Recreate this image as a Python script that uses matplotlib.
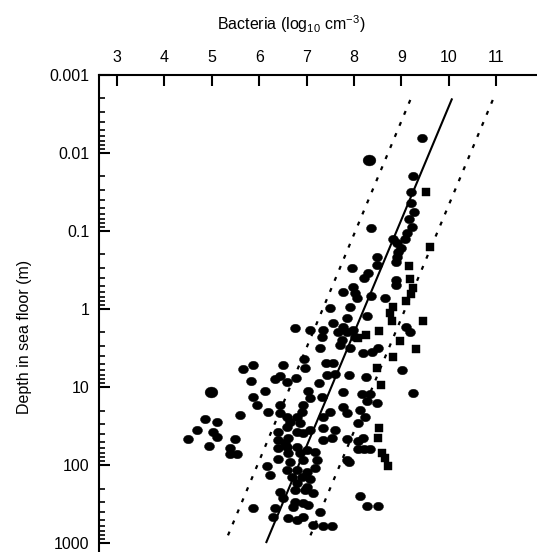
import numpy as np
import matplotlib
matplotlib.use("Agg")
import matplotlib.pyplot as plt
from matplotlib.path import Path
from matplotlib.transforms import Affine2D
from matplotlib.ticker import LogLocator, FixedLocator, NullFormatter

plt.rcParams['font.family'] = ['Liberation Sans', 'DejaVu Sans']
plt.rcParams['mathtext.fontset'] = 'custom'
plt.rcParams['mathtext.rm'] = 'Liberation Sans'
plt.rcParams['mathtext.it'] = 'Liberation Sans:italic'

# ---- data: bacteria (log10 cells cm^-3) vs depth in sea floor (m) ----
circ_bact = [9.43, 9.24, 9.20, 9.20, 9.27, 9.16, 9.22, 9.12, 9.08, 8.36,
             8.82, 8.91, 8.99, 8.93, 8.91, 8.89, 8.49, 8.49, 7.96, 8.30,
             8.21, 8.89, 8.89, 7.77, 7.98, 8.02, 8.06, 8.36, 8.65,
             7.49, 7.92, 7.85, 8.27, 7.56, 7.77, 7.07, 7.35, 7.66, 7.85,
             6.76, 7.98, 8.02, 7.32, 7.75, 7.70, 7.92, 7.28, 8.19, 8.38,
             8.51, 9.10, 9.18, 6.95, 6.97, 7.41, 7.56, 9.01, 5.87, 5.66, 6.50,
             5.83, 6.44, 6.33, 6.59, 6.78, 6.12, 5.87, 7.03, 7.07, 7.26,
             7.32, 7.43, 7.60, 7.89, 8.25, 7.77, 8.17, 8.34, 8.27, 9.24,
             5.95, 6.44, 6.92, 7.77, 6.19, 6.44, 6.90, 7.49, 5.59, 6.59,
             6.80, 7.35, 4.86, 5.11, 6.65, 6.86, 6.59, 7.07, 7.35, 7.60,
             4.69, 5.03, 6.40, 6.80, 6.92, 4.50, 5.11, 5.49, 6.40, 6.61,
             7.35, 7.54, 4.94, 5.38, 6.40, 6.59, 6.80, 7.01, 5.38, 5.53,
             6.61, 6.86, 7.18, 6.40, 6.65, 6.92, 7.22, 7.85, 6.16, 6.59,
             6.80, 7.01, 7.18, 6.23, 6.69, 6.90, 7.07, 6.80, 7.01, 6.44,
             6.76, 6.97, 7.14, 6.50, 6.76, 6.92, 5.87, 6.33, 6.71, 7.03,
             7.28, 6.29, 6.61, 6.80, 6.92, 7.14, 7.35, 7.54, 6.54,
             8.49, 8.13, 8.23, 8.08, 7.85, 7.85, 8.08, 8.19, 8.08, 8.21,
             8.34, 7.89, 8.13, 8.27, 8.51]
circ_depth = [0.0065, 0.0197, 0.032, 0.044, 0.057, 0.070, 0.089, 0.106, 0.127, 0.092,
              0.127, 0.143, 0.165, 0.186, 0.215, 0.249, 0.215, 0.273, 0.298, 0.345,
              0.40, 0.42, 0.49, 0.61, 0.52, 0.62, 0.72, 0.68, 0.72,
              0.97, 0.94, 1.30, 1.23, 1.51, 1.70, 1.86, 1.86, 1.97, 1.97,
              1.75, 1.86, 2.29, 2.29, 2.49, 2.90, 3.16, 3.16, 3.66, 3.56,
              3.16, 1.70, 1.97, 4.38, 5.70, 4.92, 4.92, 6.05, 5.22, 5.88, 5.22,
              8.4, 7.2, 7.9, 8.6, 7.7, 11.2, 13.4, 11.2, 13.8, 8.9,
              13.4, 7.0, 6.8, 7.0, 7.4, 11.6, 12.3, 12.3, 15.1, 11.9,
              17.0, 17.0, 17.0, 18.0, 20.9, 21.5, 20.9, 20.9, 22.9, 24.3,
              24.3, 24.3, 25.7, 28.1, 28.1, 29.0, 32.6, 35.6, 33.6, 35.6,
              35.6, 37.8, 37.8, 37.8, 38.9, 46.4, 43.8, 46.4, 47.8, 45.1,
              47.8, 45.1, 57.0, 60.5, 60.5, 58.7, 58.7, 64.3, 72.3, 72.3,
              70.2, 70.2, 68.1, 83.8, 91.6, 86.3, 86.3, 86.3, 103, 116,
              116, 123, 109, 134, 143, 143, 151, 170, 191, 222,
              209, 209, 229, 265, 298, 307, 356, 356, 345, 326,
              401, 464, 478, 507, 464, 587, 605, 605, 52.0,
              16.0, 19.7, 24.3, 29.0, 21.5, 46.4, 49.2, 45.1, 62.4, 62.4,
              62.4, 91.6, 250, 336, 336]

big_bact = [8.32, 4.98]
big_depth = [0.0123, 11.6]

sq_bact = [9.52, 9.60, 9.16, 9.18, 9.24, 9.20, 9.10, 8.82, 8.76, 8.80,
           9.46, 8.08, 8.25, 8.53, 8.97, 9.31, 8.82, 8.49, 8.57, 8.53,
           8.51, 8.59, 8.65, 8.72]
sq_depth = [0.032, 0.160, 0.281, 0.41, 0.54, 0.64, 0.79, 0.94, 1.12, 1.43,
            1.43, 2.35, 2.15, 1.91, 2.57, 3.26, 4.12, 5.70, 9.4, 33.6,
            45.1, 70.2, 81.3, 103]

# regression: log B = a - b log d, with prediction band
fit_a = 8.21
fit_b = 0.689
band = 0.87
fit_logd = [-2.70, 3.0]
band_logd = [-2.68, 2.91]

x_ticks = [3, 4, 5, 6, 7, 8, 9, 10, 11]
y_ticks = [0.001, 0.01, 0.1, 1, 10, 100, 1000]
y_tick_labels = ['0.001', '0.01', '0.1', '1', '10', '100', '1000']

# ---- figure ----
fig = plt.figure(figsize=(5.37, 5.52), dpi=100)
ax = fig.add_axes([99/537, 0.0, 438/537, 477/552])

ax.set_yscale('log')
ax.set_xlim(2.62, 11.86)
ax.set_ylim(10**3.115, 0.001)

ell = Path.unit_circle().transformed(Affine2D().scale(1.0, 0.85))

ax.plot(circ_bact, circ_depth, linestyle='none', marker=ell, ms=7.2,
        color='black', mec='black', mew=0.3)
ax.plot(big_bact, big_depth, linestyle='none', marker=ell, ms=9.2,
        color='black', mec='black', mew=0.3)
ax.plot(sq_bact, sq_depth, linestyle='none', marker='s', ms=5.8,
        color='black', mec='black', mew=0.3)

ld = np.array(fit_logd)
ax.plot(fit_a - fit_b * ld, 10**ld, color='black', lw=1.5, solid_capstyle='butt')
lb = np.array(band_logd)
for s in (-1, 1):
    ax.plot(fit_a + s * band - fit_b * lb, 10**lb, color='black', lw=1.6,
            linestyle=(0, (1.8, 3.6)))

# spines
for sp in ('bottom', 'right'):
    ax.spines[sp].set_visible(False)
for sp in ('top', 'left'):
    ax.spines[sp].set_linewidth(1.5)

ax.xaxis.tick_top()
ax.xaxis.set_major_locator(FixedLocator(x_ticks))
ax.set_xticklabels([str(t) for t in x_ticks])
ax.yaxis.set_major_locator(FixedLocator(y_ticks))
ax.set_yticklabels(y_tick_labels)
ax.yaxis.set_minor_locator(LogLocator(base=10, subs=np.arange(2, 10), numticks=20))
ax.yaxis.set_minor_formatter(NullFormatter())

ax.tick_params(axis='x', which='major', direction='in', length=8, width=1.5,
               labelsize=11.5, pad=7, top=True, bottom=False)
ax.tick_params(axis='x', which='minor', top=False, bottom=False)
ax.tick_params(axis='y', which='major', direction='in', length=8, width=1.5,
               labelsize=11.5, pad=7, left=True, right=False)
ax.tick_params(axis='y', which='minor', direction='in', length=4.5, width=1.2,
               left=True, right=False)

ax.text(0.438, 1.107, 'Bacteria (log$_{10}$ cm$^{-3}$)', transform=ax.transAxes,
        ha='center', va='center', fontsize=11.5)
ax.text(-0.171, 0.451, 'Depth in sea floor (m)', transform=ax.transAxes,
        ha='center', va='center', rotation=90, fontsize=11.5)

fig.savefig('out.png', dpi=100)
